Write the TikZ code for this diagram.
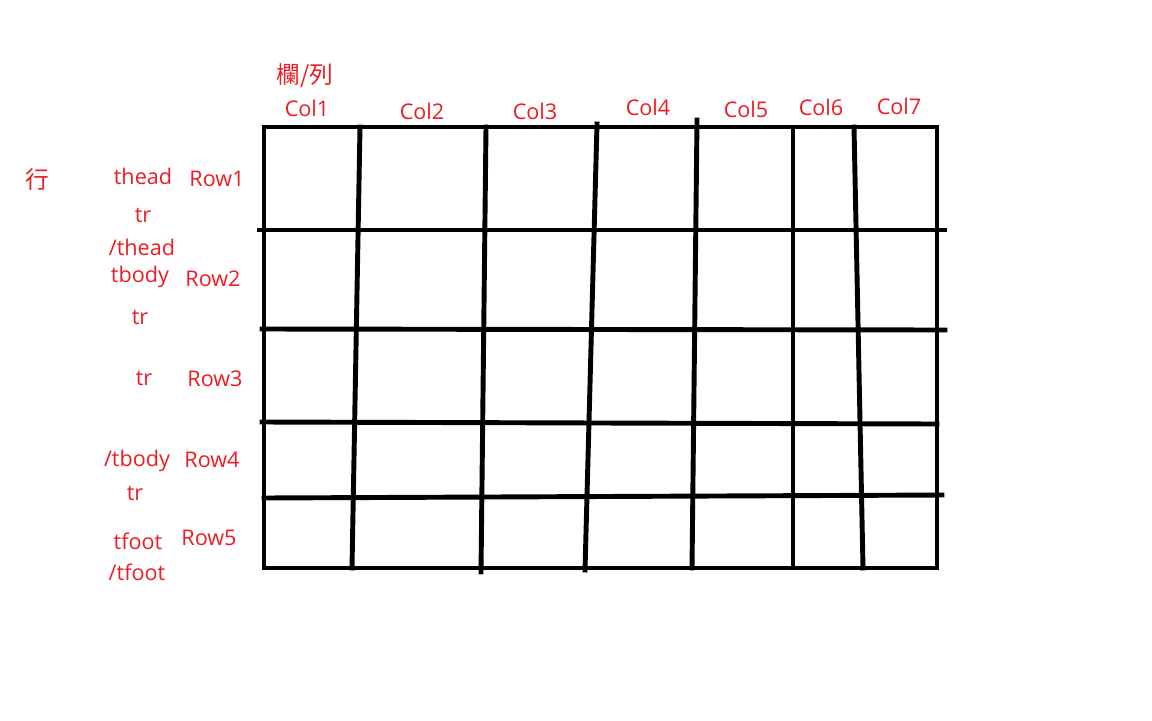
\documentclass[tikz,border=0pt]{standalone}
\usepackage{fontspec}
\setmainfont{Open Sans}
\newfontfamily\cjk{Noto Sans CJK TC}
\usepackage{tikz}
\usetikzlibrary{positioning}
\definecolor{paintred}{HTML}{ED1C24}
\tikzset{
    lbl/.style={text=paintred, font=\fontsize{12.3}{14}\selectfont, inner sep=0pt},
    cjklbl/.style={lbl, font=\cjk\fontsize{13.5}{15}\selectfont},
    gridline/.style={line width=2.8pt, line cap=rect, black}
}

\begin{document}
\begin{tikzpicture}[x=0.02cm, y=-0.02cm]
    \useasboundingbox (0,0) rectangle (1152,720);

    % outer frame
    \draw[gridline] (264,127) rectangle (937,568);

    % rows
    \draw[gridline] (259,230) -- (945,230);
    \draw[gridline] (262,329) -- (945,330);
    \draw[gridline] (262,422) -- (937,424);
    \draw[gridline] (264,498) -- (942,495);

    % columns
    \draw[gridline] (360,127) -- (352,568);
    \draw[gridline] (486,127) -- (481,572);
    \draw[gridline] (597,124) -- (585,570);
    \draw[gridline] (697,120) -- (692,568);
    \draw[gridline] (793,127) -- (793,568);
    \draw[gridline] (854,127) -- (863,568);

    % column labels
    \node[cjklbl] (colhdr) at (305,76) {欄/列};
    \node[lbl] (col1) at (307,108) {Col1};
    \node[lbl] (col2) at (422,111) {Col2};
    \node[lbl] (col3) at (535,111) {Col3};
    \node[lbl] (col4) at (648,107) {Col4};
    \node[lbl] (col5) at (746,109) {Col5};
    \node[lbl] (col6) at (821,107) {Col6};
    \node[lbl] (col7) at (899,106) {Col7};

    % row labels
    \node[cjklbl] (rowhdr) at (37,180) {行};
    \node[lbl] (row1) at (217,179) {Row1};
    \node[lbl] (row2) at (213,279) {Row2};
    \node[lbl] (row3) at (215,379) {Row3};
    \node[lbl] (row4) at (212,460) {Row4};
    \node[lbl] (row5) at (209,538) {Row5};

    % tags
    \node[lbl] (thead) at (143,176) {thead};
    \node[lbl] (tra) at (143,215) {tr};
    \node[lbl] (theadend) at (142,247) {/thead};
    \node[lbl] (tbody) at (140,277) {tbody};
    \node[lbl] (trb) at (140,317) {tr};
    \node[lbl] (trc) at (144,378) {tr};
    \node[lbl] (tbodyend) at (137,461) {/tbody};
    \node[lbl] (trd) at (135,493) {tr};
    \node[lbl] (tfoot) at (138,541) {tfoot};
    \node[lbl] (tfootend) at (137,572) {/tfoot};
\end{tikzpicture}
\end{document}
